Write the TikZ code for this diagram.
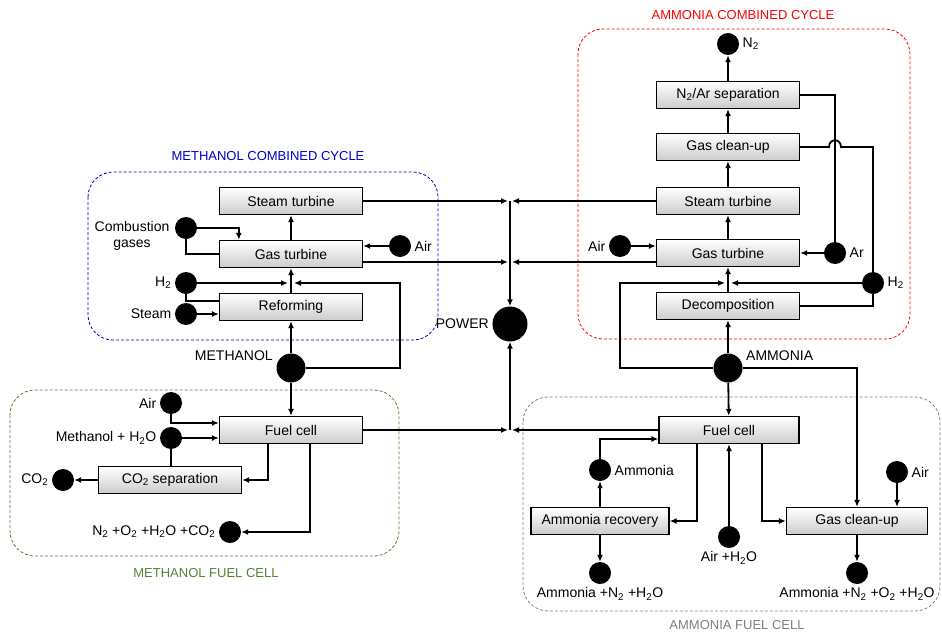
\documentclass[tikz,border=0pt]{standalone}
\usepackage{fontspec}
\setmainfont{Liberation Sans}
\usetikzlibrary{arrows.meta}
\definecolor{mfcgreen}{RGB}{84,130,53}

\begin{document}
\begin{tikzpicture}[x=1pt,y=-1pt,>={Latex[length=7pt,width=6pt]},
    font=\fontsize{14}{16}\selectfont,
    block/.style={draw,line width=1.3pt,minimum width=143pt,minimum height=27pt,inner sep=1pt,
        top color=white,bottom color=gray!40},
    dot/.style={circle,fill=black,inner sep=0pt,minimum size=22pt},
    bigdot/.style={dot,minimum size=29pt},
    flow/.style={->,line width=1.8pt},
    pipe/.style={line width=1.8pt},
    group/.style={dash pattern=on 3pt off 2pt,line width=0.8pt,rounded corners=25pt},
    title/.style={font=\fontsize{13}{15}\selectfont}]
\useasboundingbox (0,0) rectangle (942,634);

% groups
\draw[group,blue!80!black] (88,172) rectangle (438,340);
\draw[group,mfcgreen] (10,390) rectangle (399,556);
\draw[group,red] (578,29) rectangle (910,339);
\draw[group,gray] (523,397) rectangle (940,611);
\node[title,text=blue!80!black] (mcct) at (268,156) {METHANOL COMBINED CYCLE};
\node[title,text=mfcgreen] (mfct) at (206,573) {METHANOL FUEL CELL};
\node[title,text=red] (acct) at (743,15) {AMMONIA COMBINED CYCLE};
\node[title,text=gray] (afct) at (737,625) {AMMONIA FUEL CELL};

% methanol combined cycle
\node[block] (mst) at (291,201) {Steam turbine};
\node[block] (mgt) at (291,254) {Gas turbine};
\node[block] (mref) at (291,307) {Reforming};
\node[dot] (comb) at (186,228) {};
\node[align=center] (combt) at (132,236) {Combustion\\gases};
\node[dot,label=right:Air] (mair) at (400,246) {};
\node[dot,label=left:H\textsubscript{2}] (mh2) at (186,283) {};
\node[dot,label=left:Steam] (mstm) at (186,314) {};
\node[bigdot,label={[anchor=east,yshift=12pt]west:METHANOL}] (meoh) at (291,368) {};
\node[dot,minimum size=35pt,label=left:POWER] (pow) at (510,324) {};
\coordinate (mgtout) at ([yshift=-8pt]mgt.east);

\draw[flow] (comb) -| ([xshift=20pt]mgt.north west);
\draw[pipe] (comb) |- (mgt.west);
\draw[flow] (mair) -- (mair -| mgt.east);
\draw[flow] (mgt) -- (mst);
\draw[flow] (mref) -- (mgt);
\draw[flow] (mh2) -- ([xshift=-3pt]mh2 -| mgt.south);
\draw[pipe] (mh2) |- ([yshift=6pt]mref.west);
\draw[flow] (mstm) -- (mstm -| mref.west);
\draw[flow] (meoh) -- (mref);
\draw[flow] (meoh) -| (mair |- mh2) -- ([xshift=3pt]mh2 -| mgt.south);
\draw[flow,shorten >=2pt] (mst.east) -- (mst.east -| pow);
\draw[flow,shorten >=2pt] (mgtout) -- (mgtout -| pow);

% methanol fuel cell
\node[block] (mfc) at (291,430) {Fuel cell};
\node[block] (mco2sep) at (170,480) {CO\textsubscript{2} separation};
\node[dot,label=left:Air] (mfair) at (171,403) {};
\node[dot,label=left:Methanol + H\textsubscript{2}O] (mfmeoh) at (171,438) {};
\node[dot,label=left:CO\textsubscript{2}] (co2) at (63,480) {};
\node[dot,label=left:N\textsubscript{2} +O\textsubscript{2} +H\textsubscript{2}O +CO\textsubscript{2}] (mexh) at (230,532) {};

\draw[flow] (meoh) -- (mfc);
\draw[flow] (mfair) |- ([yshift=7pt]mfc.west);
\draw[flow] (mfmeoh) -- (mfmeoh -| mfc.west);
\draw[pipe] (mfmeoh) -- (mfmeoh |- mco2sep.north);
\draw[flow] (mco2sep) -- (co2);
\draw[flow] ([xshift=-23pt]mfc.south) |- (mco2sep.east);
\draw[flow] ([xshift=19pt]mfc.south) |- (mexh);
\draw[flow,shorten >=2pt] (mfc.east) -- (mfc.east -| pow);

% power
\draw[flow] (pow |- mst.east) -- (pow);
\draw[flow] (pow |- mfc.east) -- (pow);

% ammonia combined cycle
\node[block] (asep) at (728,95) {N\textsubscript{2}/Ar separation};
\node[block] (agc) at (728,147) {Gas clean-up};
\node[block] (ast) at (728,201) {Steam turbine};
\node[block] (agt) at (728,253) {Gas turbine};
\node[block] (adec) at (728,306) {Decomposition};
\node[dot,label=right:N\textsubscript{2}] (an2) at (728,44) {};
\node[dot,label=left:Air] (aair) at (620,246) {};
\node[dot,label=right:Ar] (aar) at (835,253) {};
\node[dot,label=right:H\textsubscript{2}] (ah2) at (873,283) {};
\node[bigdot,label={[anchor=west,yshift=12pt]east:AMMONIA}] (anh3) at (728,368) {};
\coordinate (agtout) at ([yshift=-9pt]agt.west);
\coordinate (hop) at (aar |- agc.east);

\draw[flow] (asep) -- (an2);
\draw[flow] (agc) -- (asep);
\draw[flow] (ast) -- (agc);
\draw[flow] (agt) -- (ast);
\draw[flow] (adec) -- (agt);
\draw[flow] (aair) -- (aair -| agt.west);
\draw[flow] (aar) -- (agt);
\draw[pipe] (asep.east) -| (aar);
\draw[pipe] (agc.east) -- ([xshift=-6pt]hop) .. controls ([xshift=-6pt,yshift=9pt]hop) and ([xshift=6pt,yshift=9pt]hop) .. ([xshift=6pt]hop) -| (ah2);
\draw[pipe] (adec.east) -| (ah2);
\draw[flow] (ah2) -- ([xshift=3pt]ah2 -| agt.south);
\draw[flow] (anh3) -| (aair |- ah2) -- ([xshift=-3pt]ah2 -| agt.south);
\draw[flow] (anh3) -- (adec);
\draw[flow,shorten >=2pt] (ast.west) -- (ast.west -| pow);
\draw[flow,shorten >=2pt] (agtout) -- (agtout -| pow);

% ammonia fuel cell
\node[block,minimum width=140pt] (afc) at (729,430) {Fuel cell};
\node[block,minimum width=138pt] (arec) at (600,521) {Ammonia recovery};
\node[block,minimum width=141pt] (agc2) at (857,521) {Gas clean-up};
\node[dot,label=right:Ammonia] (anh3r) at (600,470) {};
\node[dot,label=below:Air +H\textsubscript{2}O] (aairw) at (729,537) {};
\node[dot,label=right:Air] (aair2) at (897,472) {};
\node[dot,label=below:Ammonia +N\textsubscript{2} +H\textsubscript{2}O] (aout1) at (600,573) {};
\node[dot,label=below:Ammonia +N\textsubscript{2} +O\textsubscript{2} +H\textsubscript{2}O] (aout2) at (857,573) {};

\draw[flow] (anh3) -- (afc);
\draw[flow] (anh3) -| (agc2);
\draw[flow] (arec) -- (anh3r);
\draw[flow] (anh3r) |- ([yshift=-9pt]afc.west);
\draw[flow] ([xshift=-32pt]afc.south) |- (arec.east);
\draw[flow] (aairw) -- (afc);
\draw[flow] ([xshift=33pt]afc.south) |- (agc2.west);
\draw[flow] (aair2) -- (aair2 |- agc2.north);
\draw[flow] (arec) -- (aout1);
\draw[flow] (agc2) -- (aout2);
\draw[flow,shorten >=2pt] (afc.west) -- (afc.west -| pow);
\end{tikzpicture}
\end{document}
